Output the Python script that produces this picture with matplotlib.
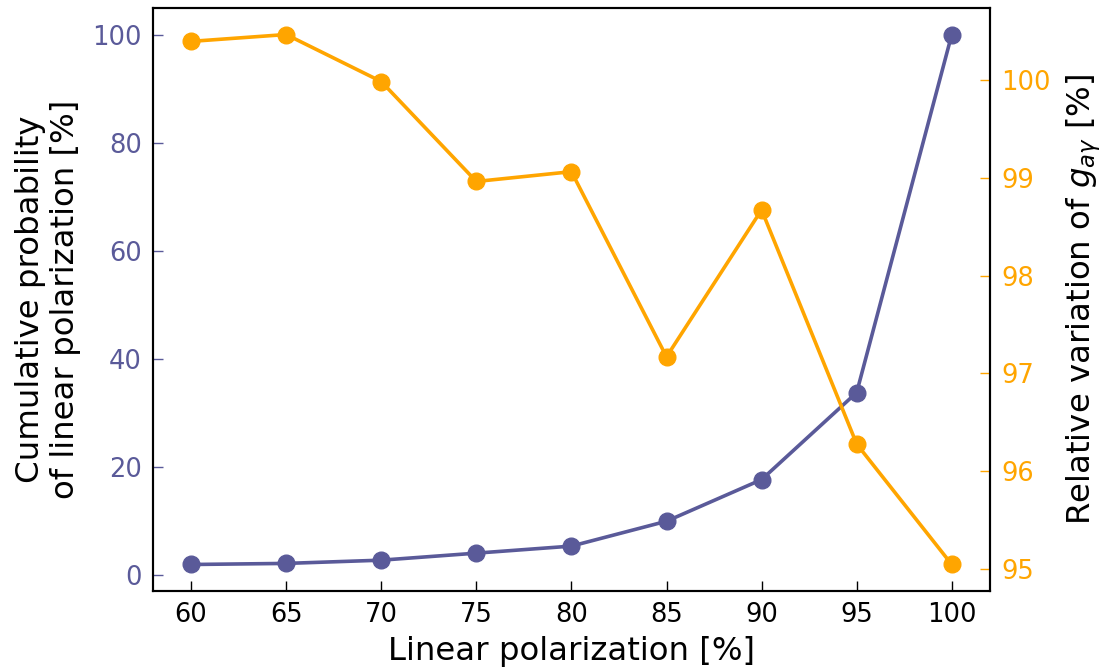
import matplotlib
matplotlib.use("Agg")
import matplotlib.pyplot as plt

polarization = [60, 65, 70, 75, 80, 85, 90, 95, 100]
cumulative_prob = [2.0, 2.2, 2.8, 4.1, 5.4, 10.0, 17.7, 33.8, 100.0]
relative_variation = [100.39, 100.46, 99.98, 98.96, 99.06, 97.17, 98.67, 96.28, 95.05]

purple = '#5a5a99'
orange = '#ffa500'

fig = plt.figure(figsize=(11.01, 6.69), dpi=100)
ax = fig.add_axes([0.139, 0.1166, 0.760, 0.8714])
ax.plot(polarization, cumulative_prob, '-o', color=purple, lw=2.6, markersize=12)
ax.set_xlabel('Linear polarization [%]', fontsize=23.3, labelpad=6)
ax.set_ylabel('Cumulative probability\nof linear polarization [%]', fontsize=23.3,
              labelpad=8)
ax.set_xticks(polarization)
ax.tick_params(axis='x', direction='in', labelsize=18.5, length=7, width=1, pad=8)
ax.tick_params(axis='y', direction='in', labelsize=18.5, length=7, width=1,
               colors=purple, pad=8)
ax.set_yticks([0, 20, 40, 60, 80, 100])

ax2 = ax.twinx()
ax2.plot(polarization, relative_variation, '-o', color=orange, lw=2.6, markersize=12)
ax2.set_ylabel(r'Relative variation of $g_{a\gamma}$ [%]', fontsize=23.3, labelpad=10)
ax2.tick_params(axis='y', direction='in', labelsize=18.5, length=7, width=1,
                colors=orange, pad=8)
ax2.set_yticks([95, 96, 97, 98, 99, 100])

for a in (ax, ax2):
    for s in a.spines.values():
        s.set_linewidth(1.5)

fig.savefig('out.png', dpi=100)
